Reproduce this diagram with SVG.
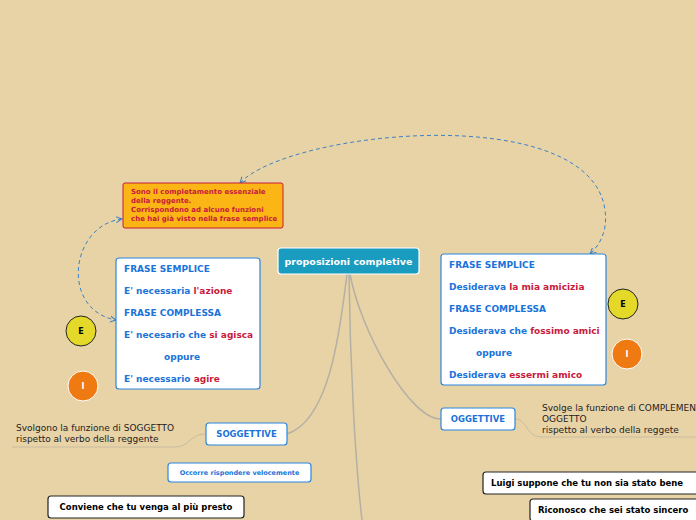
<svg xmlns="http://www.w3.org/2000/svg" width="696" height="520" viewBox="0 0 696 520">
<defs>
<marker id="ar" markerWidth="8" markerHeight="8" refX="6" refY="4" orient="auto-start-reverse" markerUnits="userSpaceOnUse"><path d="M0,1 L6,4 L0,7" fill="none" stroke="#3b82c4" stroke-width="1"/></marker>
</defs>
<style>
text{font-family:"DejaVu Sans",Verdana,sans-serif;font-weight:bold}
.b{fill:#1a73d9}.r{fill:#c81a3c}.k{fill:#000}
.n{font-weight:normal;fill:#222;font-size:9px}
.box{fill:#fff;stroke:#2b86e0;stroke-width:1.2}
.bk{fill:#fff;stroke:#222;stroke-width:1.2}
.ln{fill:none;stroke:#b5b0a4;stroke-width:1.5}
.th{fill:none;stroke:#c9bca0;stroke-width:1}
.da{fill:none;stroke:#3b82c4;stroke-width:1;stroke-dasharray:4,3}
</style>
<rect width="696" height="520" fill="#e8d3a7"/>
<g id="connectors">
<path class="ln" d="M347,274 C340,330 330,420 287,434"/>
<path class="ln" d="M350,274 C360,330 410,420 441,419"/>
<path class="ln" d="M349,274 C350,360 355,460 362,520"/>
<path class="th" d="M205,434 C190,434 190,447 175,447 L12,447"/>
<path class="th" d="M515,419 C528,419 525,437 542,437 L696,437"/>
<path class="da" d="M240,183 C290,130 590,100 605,210 C608,230 600,245 590,254" marker-end="url(#ar)" marker-start="url(#ar)"/>
<path class="da" d="M122,219 C70,225 60,310 116,320" marker-end="url(#ar)" marker-start="url(#ar)"/>
</g>
<g id="root"><rect x="278" y="248" width="141" height="26" rx="3" fill="#1a9bc0" stroke="#fff" stroke-width="1.2"/><text x="348.5" y="265" text-anchor="middle" font-size="9.5" fill="#fff">proposizioni completive</text></g>
<g id="note"><rect x="123" y="183" width="160" height="45" rx="2" fill="#fbb515" stroke="#c81a3c" stroke-width="1"/>
<text font-size="7" class="r"><tspan x="131" y="194">Sono il completamento essenziale</tspan><tspan x="131" y="203">della reggente.</tspan><tspan x="131" y="212">Corrispondono ad alcune funzioni</tspan><tspan x="131" y="221">che hai già visto nella frase semplice</tspan></text></g>
<g id="left"><rect class="box" x="116" y="258" width="144" height="131" rx="3"/>
<text font-size="9"><tspan x="124" y="272" class="b">FRASE SEMPLICE</tspan><tspan x="124" y="294" class="b">E' necessaria <tspan class="r">l'azione</tspan></tspan><tspan x="124" y="316" class="b">FRASE COMPLESSA</tspan><tspan x="124" y="338" class="b">E' necesario che <tspan class="r">si agisca</tspan></tspan><tspan x="164" y="360" class="b">oppure</tspan><tspan x="124" y="382" class="b">E' necessario <tspan class="r">agire</tspan></tspan></text></g>
<g id="right"><rect class="box" x="441" y="254" width="165" height="131" rx="3"/>
<text font-size="9"><tspan x="449" y="268" class="b">FRASE SEMPLICE</tspan><tspan x="449" y="290" class="b">Desiderava <tspan class="r">la mia amicizia</tspan></tspan><tspan x="449" y="312" class="b">FRASE COMPLESSA</tspan><tspan x="449" y="334" class="b">Desiderava che <tspan class="r">fossimo amici</tspan></tspan><tspan x="476" y="356" class="b">oppure</tspan><tspan x="449" y="378" class="b">Desiderava <tspan class="r">essermi amico</tspan></tspan></text></g>
<g id="e1"><circle cx="81" cy="331" r="15" fill="#e4d928" stroke="#222" stroke-width="1"/><text x="81" y="334" text-anchor="middle" font-size="8" class="k">E</text></g>
<g id="i1"><circle cx="83" cy="386" r="15" fill="#ef7a12" stroke="#fff" stroke-width="1"/><text x="83" y="389" text-anchor="middle" font-size="8" fill="#fff">I</text></g>
<g id="e2"><circle cx="623" cy="304" r="15" fill="#e4d928" stroke="#222" stroke-width="1"/><text x="623" y="307" text-anchor="middle" font-size="8" class="k">E</text></g>
<g id="i2"><circle cx="627" cy="354" r="15" fill="#ef7a12" stroke="#fff" stroke-width="1"/><text x="627" y="357" text-anchor="middle" font-size="8" fill="#fff">I</text></g>
<g id="sogg"><rect class="box" x="206" y="423" width="81" height="22" rx="3"/><text x="246.5" y="437" text-anchor="middle" font-size="8.5" class="b">SOGGETTIVE</text>
<text class="n"><tspan x="16" y="431">Svolgono la funzione di SOGGETTO</tspan><tspan x="16" y="442">rispetto al verbo della reggente</tspan></text></g>
<g id="ogg"><rect class="box" x="441" y="408" width="74" height="22" rx="3"/><text x="478" y="422" text-anchor="middle" font-size="8.5" class="b">OGGETTIVE</text>
<text class="n"><tspan x="542" y="411">Svolge la funzione di COMPLEMENTO</tspan><tspan x="542" y="422">OGGETTO</tspan><tspan x="542" y="433">rispetto al verbo della reggete</tspan></text></g>
<g id="occ"><rect class="box" x="168" y="463" width="143" height="19" rx="3"/><text x="239.5" y="475" text-anchor="middle" font-size="6.5" class="b">Occorre rispondere velocemente</text></g>
<g id="conv"><rect class="bk" x="48" y="496" width="196" height="22" rx="3"/><text x="146" y="510" text-anchor="middle" font-size="8.5" class="k">Conviene che tu venga al più presto</text></g>
<g id="luigi"><rect class="bk" x="483" y="472" width="220" height="22" rx="3"/><text x="491" y="486" font-size="8.5" class="k">Luigi suppone che tu non sia stato bene</text></g>
<g id="ric"><rect class="bk" x="530" y="499" width="180" height="22" rx="3"/><text x="538" y="513" font-size="8.5" class="k">Riconosco che sei stato sincero</text></g>
</svg>
